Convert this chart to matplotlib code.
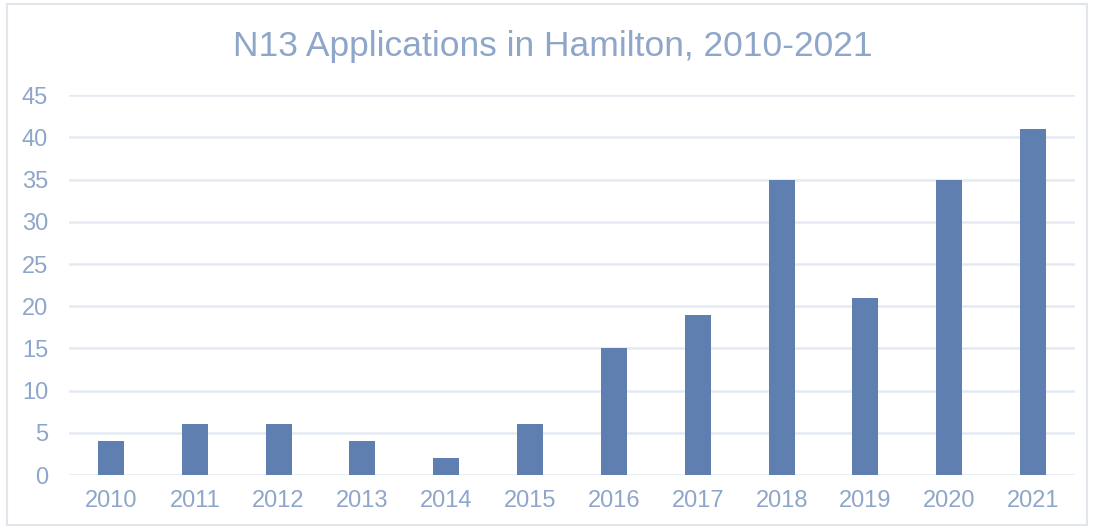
import matplotlib.pyplot as plt
from matplotlib.patches import Rectangle

years = ["2010", "2011", "2012", "2013", "2014", "2015",
         "2016", "2017", "2018", "2019", "2020", "2021"]
applications = [4, 6, 6, 4, 2, 6, 15, 19, 35, 21, 35, 41]
y_ticks = [0, 5, 10, 15, 20, 25, 30, 35, 40, 45]

bar_color = "#5F7FB1"
text_color = "#8EA6C9"
grid_color = "#E4E9F2"

plt.rcParams["font.family"] = ["Liberation Sans", "DejaVu Sans"]

fig = plt.figure(figsize=(10.94, 5.29), dpi=100)
ax = fig.add_axes([0.0631, 0.102, 0.9196, 0.718])

# chart border like the spreadsheet frame
fig.patches.append(Rectangle((7 / 1094, 4 / 529), 1080 / 1094, 521 / 529,
                             transform=fig.transFigure, fill=False,
                             edgecolor="#E1E5EC", linewidth=1.5))

x = range(len(years))
ax.bar(x, applications, width=0.31, color=bar_color, zorder=3)

ax.set_xlim(-0.5, len(years) - 0.5)
ax.set_ylim(0, 45)
ax.set_yticks(y_ticks)
ax.set_xticks(list(x))
ax.set_xticklabels(years)
ax.grid(axis="y", color=grid_color, linewidth=1.8, zorder=0)
ax.tick_params(axis="both", length=0, labelsize=17, labelcolor=text_color)
ax.tick_params(axis="y", pad=15)
ax.tick_params(axis="x", pad=11)
for spine in ax.spines.values():
    spine.set_visible(False)

fig.text(0.5055, 0.913, "N13 Applications in Hamilton, 2010-2021",
         ha="center", va="center", fontsize=25.5, color=text_color)

fig.savefig("out.png", dpi=100)
